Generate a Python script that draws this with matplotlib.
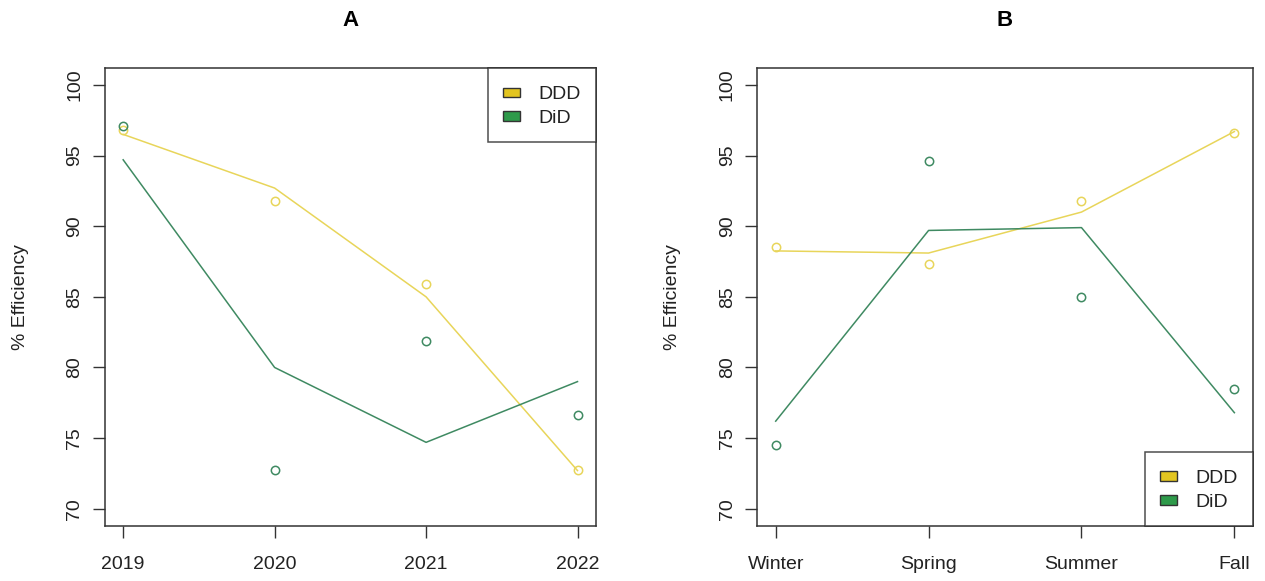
import matplotlib.pyplot as plt
from matplotlib.patches import Patch, Rectangle
from matplotlib.legend_handler import HandlerPatch

plt.rcParams['font.family'] = ['Liberation Sans', 'DejaVu Sans']

years = ['2019', '2020', '2021', '2022']
seasons = ['Winter', 'Spring', 'Summer', 'Fall']

# panel A: observed points and fitted lines
ddd_year_pts = [96.8, 91.8, 85.9, 72.75]
did_year_pts = [97.1, 72.75, 81.9, 76.6]
ddd_year_fit = [96.5, 92.7, 85.0, 72.7]
did_year_fit = [94.7, 80.0, 74.7, 79.0]

# panel B
ddd_season_pts = [88.5, 87.3, 91.8, 96.6]
did_season_pts = [74.5, 94.6, 85.0, 78.5]
ddd_season_fit = [88.25, 88.1, 91.0, 96.7]
did_season_fit = [76.2, 89.7, 89.9, 76.8]

yticks = [70, 75, 80, 85, 90, 95, 100]

c_ddd = '#E3C520'
c_did = '#2E9A4A'
c_ddd_line = '#E8D55A'
c_did_line = '#3F8A62'

fig = plt.figure(figsize=(12.65, 5.81), dpi=100)
ax_a = fig.add_axes([0.083, 0.0952, 0.3879, 0.7878])
ax_b = fig.add_axes([0.5987, 0.0952, 0.3916, 0.7878])


def small_box(legend, orig_handle, xdescent, ydescent, width, height, fontsize):
    # R-style legend square: a bit shorter than the row
    h = height * 0.52
    return Rectangle((-xdescent, -ydescent + (height - h) / 2), width, h)


def panel(ax, labels, ddd_pts, did_pts, ddd_fit, did_fit, title, legend_loc):
    x = list(range(1, len(labels) + 1))
    ax.plot(x, ddd_fit, color=c_ddd_line, lw=1.1)
    ax.plot(x, did_fit, color=c_did_line, lw=1.1)
    ax.plot(x, ddd_pts, 'o', mfc='none', mec=c_ddd_line, ms=6, mew=1.1)
    ax.plot(x, did_pts, 'o', mfc='none', mec=c_did_line, ms=6, mew=1.1)
    ax.set_xlim(0.88, 4.12)
    ax.set_ylim(68.8, 101.2)
    ax.set_xticks(x)
    ax.set_xticklabels(labels)
    ax.set_yticks(yticks)
    ax.set_yticklabels([str(v) for v in yticks], rotation=90, va='center')
    ax.tick_params(axis='both', direction='out', length=8.5, width=1,
                   labelsize=14, color='#333333', labelcolor='#222222')
    ax.tick_params(axis='x', pad=13)
    ax.tick_params(axis='y', pad=7)
    for s in ax.spines.values():
        s.set_color('#333333')
        s.set_linewidth(1.1)
    ax.set_ylabel('% Efficiency', fontsize=14, labelpad=27, color='#222222')
    ax.set_title(title, fontsize=16, fontweight='bold', pad=30)
    handles = [Patch(facecolor=c_ddd, edgecolor='#333333', label='DDD'),
               Patch(facecolor=c_did, edgecolor='#333333', label='DiD')]
    leg = ax.legend(handles=handles, loc=legend_loc, fontsize=14,
                    frameon=True, fancybox=False, borderaxespad=0,
                    handler_map={Patch: HandlerPatch(patch_func=small_box)},
                    handlelength=0.85, handleheight=1.1, handletextpad=0.95,
                    borderpad=0.78, labelspacing=0.19)
    leg.get_frame().set_edgecolor('#222222')
    leg.get_frame().set_linewidth(1.1)
    for t in leg.get_texts():
        t.set_color('#222222')


panel(ax_a, years, ddd_year_pts, did_year_pts, ddd_year_fit, did_year_fit,
      'A', 'upper right')
panel(ax_b, seasons, ddd_season_pts, did_season_pts, ddd_season_fit,
      did_season_fit, 'B', 'lower right')

fig.savefig('out.png', dpi=100)
